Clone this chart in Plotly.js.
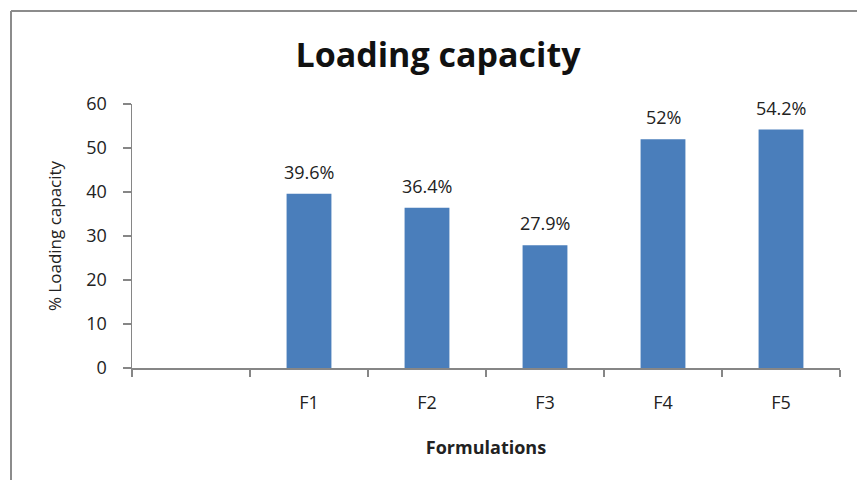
<!DOCTYPE html>
<html>
<head>
<meta charset="utf-8">
<script src="https://cdn.plot.ly/plotly-3.0.1.min.js"></script>
<style>
  html, body { margin: 0; padding: 0; background: #ffffff; }
  #chart { width: 857px; height: 480px; }
</style>
</head>
<body>
<div id="chart"></div>
<script>
const categories = [" ", "F1", "F2", "F3", "F4", "F5"];
const loadingCapacity = [null, 39.6, 36.4, 27.9, 52, 54.2];
const valueLabels = ["", "39.6%", "36.4%", "27.9%", "52%", "54.2%"];
const yTickValues = [0, 10, 20, 30, 40, 50, 60];

const FONT = "Open Sans, sans-serif";
const AXIS_COLOR = "#868686";

const trace = {
  type: "bar",
  x: categories,
  y: loadingCapacity,
  marker: { color: "#4A7EBB" },
  hoverinfo: "skip"
};

const annotations = [];
categories.forEach((c, i) => {
  if (loadingCapacity[i] == null) return;
  annotations.push({
    x: c, y: loadingCapacity[i], xref: "x", yref: "y",
    text: valueLabels[i], showarrow: false,
    yanchor: "bottom", yshift: 8,
    font: { family: FONT, size: 18, color: "#222222" }
  });
});

const layout = {
  width: 857, height: 480,
  paper_bgcolor: "#ffffff", plot_bgcolor: "#ffffff",
  margin: { l: 132, r: 17, t: 104, b: 112 },
  showlegend: false,
  bargap: 0.62,
  title: {
    text: "<b>Loading capacity</b>",
    x: 438 / 857, xanchor: "center", xref: "container",
    y: 1 - 55 / 480, yanchor: "middle", yref: "container",
    font: { family: FONT, size: 34, color: "#111111" }
  },
  xaxis: {
    type: "category",
    categoryorder: "array",
    categoryarray: categories,
    range: [-0.5, 5.5],
    showline: true, linecolor: AXIS_COLOR, linewidth: 1.5,
    ticks: "outside", tickson: "boundaries", ticklen: 7, tickcolor: AXIS_COLOR, tickwidth: 1.5,
    showgrid: false, zeroline: false,
    tickfont: { family: FONT, size: 18, color: "#222222" },
    ticklabelstandoff: 18,
    title: {
      text: "<b>Formulations</b>",
      font: { family: FONT, size: 18, color: "#222222" },
      standoff: 28
    }
  },
  yaxis: {
    range: [0, 60],
    tickvals: yTickValues,
    showline: true, linecolor: AXIS_COLOR, linewidth: 1.5,
    ticks: "outside", ticklen: 8, tickcolor: AXIS_COLOR, tickwidth: 1.5,
    showgrid: false, zeroline: false,
    tickfont: { family: FONT, size: 18, color: "#222222" },
    ticklabelstandoff: 12,
    title: {
      text: "% Loading capacity",
      font: { family: FONT, size: 17, color: "#222222" },
      standoff: 20
    }
  },
  annotations: annotations,
  shapes: [
    { type: "line", xref: "paper", yref: "paper", x0: -121/708, x1: 1.03, y0: 1 + 93/264, y1: 1 + 93/264,
      line: { color: "#8c8c8c", width: 2 } },
    { type: "line", xref: "paper", yref: "paper", x0: -121/708, x1: -121/708, y0: 1 + 93/264, y1: -120/264,
      line: { color: "#8c8c8c", width: 2 } }
  ]
};

Plotly.newPlot("chart", [trace], layout, { staticPlot: true, displayModeBar: false });
</script>
</body>
</html>
